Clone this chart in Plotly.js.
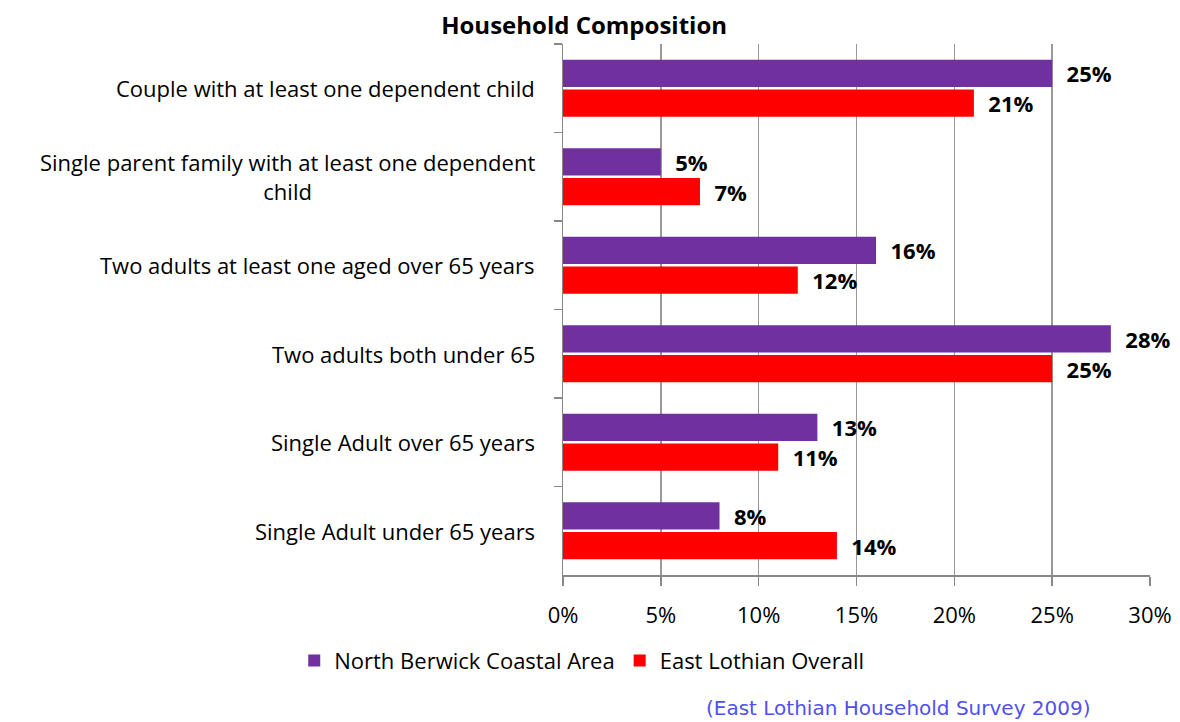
<!DOCTYPE html>
<html>
<head>
<meta charset="utf-8">
<script src="https://cdn.plot.ly/plotly-3.0.1.min.js"></script>
<style>html,body{margin:0;padding:0;background:#fff;}#chart{width:1180px;height:722px;}</style>
</head>
<body>
<div id="chart"></div>
<script>
const categories = [
  "Couple with at least one dependent child",
  "Single parent family with at least one dependent<br>child",
  "Two adults at least one aged over 65 years",
  "Two adults both under 65",
  "Single Adult over 65 years",
  "Single Adult under 65 years"
];
const northBerwick = [25, 5, 16, 28, 13, 8];
const eastLothian = [21, 7, 12, 25, 11, 14];
const xTicks = [0, 5, 10, 15, 20, 25, 30];
const seriesNames = ["North Berwick Coastal Area", "East Lothian Overall"];

const FONT = "'Open Sans', sans-serif";

const makeTrace = (vals, name, color) => ({
  type: 'bar', orientation: 'h', x: vals, y: categories, name: name,
  marker: {color: color},
  text: vals.map(v => v + '%'),
  texttemplate: '  %{text}',
  textposition: 'outside',
  constraintext: 'none',
  cliponaxis: false,
  textfont: {family: FONT, size: 22, color: '#000', weight: 'bold'},
  hoverinfo: 'skip'
});

const data = [
  makeTrace(northBerwick, seriesNames[0], '#7030A0'),
  makeTrace(eastLothian, seriesNames[1], '#FF0000')
];

const annotations = categories.map(c => ({
  xref: 'paper', yref: 'y', x: -0.045, y: c, xanchor: 'right', yanchor: 'middle',
  text: c, showarrow: false, align: 'center',
  font: {family: FONT, size: 22, color: '#000'}
}));
annotations.push({
  xref: 'paper', yref: 'paper', x: 0.571, y: -0.251, xanchor: 'center', yanchor: 'middle',
  text: '(East Lothian Household Survey 2009)', showarrow: false,
  font: {family: "'DejaVu Sans', sans-serif", size: 20, color: '#5050F0'}
});

const layout = {
  width: 1180, height: 722,
  margin: {l: 563, r: 30, t: 44, b: 147},
  paper_bgcolor: '#fff', plot_bgcolor: '#fff',
  title: {text: '<b>Household Composition</b>', x: 0.495, xref: 'container', xanchor: 'center',
          y: 0.965, yref: 'container', yanchor: 'middle',
          font: {family: FONT, size: 24, color: '#000'}},
  barmode: 'group', bargap: 0.33, bargroupgap: 0.08,
  xaxis: {
    range: [0, 30], tickvals: xTicks, ticktext: xTicks.map(v => v + '%'),
    showgrid: true, gridcolor: '#999', gridwidth: 1.5,
    showline: true, linecolor: '#888', linewidth: 1.5,
    ticks: 'outside', ticklen: 9, tickcolor: '#888', tickwidth: 1.5,
    ticklabelstandoff: 11,
    tickfont: {family: FONT, size: 22, color: '#000'},
    zeroline: false, fixedrange: true
  },
  yaxis: {
    type: 'category', autorange: 'reversed',
    showticklabels: false,
    tickson: 'boundaries', ticks: 'outside', ticklen: 8, tickcolor: '#888', tickwidth: 1.5,
    showline: true, linecolor: '#888', linewidth: 1.5,
    showgrid: false, zeroline: false, fixedrange: true
  },
  legend: {
    orientation: 'h', x: 0.493, xref: 'container', xanchor: 'center',
    y: 0.085, yref: 'container', yanchor: 'middle',
    font: {family: FONT, size: 22, color: '#000'},
    traceorder: 'normal', itemwidth: 30
  },
  annotations: annotations,
  showlegend: true
};

Plotly.newPlot('chart', data, layout, {staticPlot: true, displayModeBar: false});
</script>
</body>
</html>
